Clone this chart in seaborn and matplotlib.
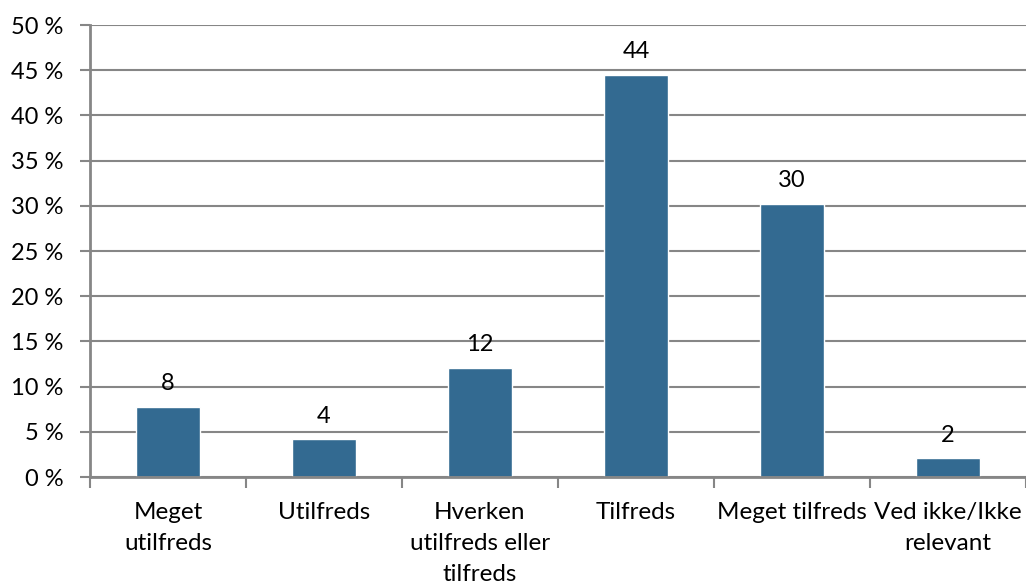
import numpy as np
import pandas as pd
import matplotlib
matplotlib.use("Agg")
import matplotlib.pyplot as plt
from matplotlib.ticker import FixedLocator, FuncFormatter
import seaborn as sns

categories = ["Meget\nutilfreds", "Utilfreds", "Hverken\nutilfreds eller\ntilfreds",
              "Tilfreds", "Meget tilfreds", "Ved ikke/Ikke\nrelevant"]
percent = [7.75, 4.2, 12.1, 44.5, 30.2, 2.1]
labels = ["8", "4", "12", "44", "30", "2"]

sns.set_theme(style="white")
plt.rcParams['font.family'] = ['Lato', 'DejaVu Sans']
plt.rcParams['text.color'] = 'black'

grey = "#868686"
df = pd.DataFrame({"cat": categories, "pct": percent})

fig = plt.figure(figsize=(10.26, 5.86), dpi=100)
ax = fig.add_axes([90 / 1026, 1 - 477 / 586, 1 - 90 / 1026, (477 - 25) / 586])

sns.barplot(data=df, x="cat", y="pct", color="#336A91", saturation=1, width=0.41, ax=ax)

ax.set_ylim(0, 50)
ax.set_xlim(-0.5, 5.5)
ax.set_yticks(np.arange(0, 51, 5))
ax.yaxis.set_major_formatter(FuncFormatter(lambda v, p: f"{int(v)} %"))
ax.grid(axis="y", color=grey, linewidth=1.5)
ax.set_axisbelow(True)
ax.tick_params(axis="y", labelsize=17, colors=grey, labelcolor="black", length=7, width=1.5, direction="out", left=True, pad=12)

ax.set_xticks(range(len(categories)))
ax.set_xticklabels(categories, fontsize=17.5, linespacing=1.6, color="black")
ax.tick_params(axis="x", which="major", length=0, pad=18)
ax.xaxis.set_minor_locator(FixedLocator(np.arange(-0.5, 6, 1)))
ax.tick_params(axis="x", which="minor", length=8, width=1.5, color=grey, bottom=True, direction="out")

for side in ["top", "right"]:
    ax.spines[side].set_visible(False)
for side in ["left", "bottom"]:
    ax.spines[side].set_color(grey)
    ax.spines[side].set_linewidth(2)

ax.set_xlabel("")
ax.set_ylabel("")

for i, (v, t) in enumerate(zip(percent, labels)):
    ax.annotate(t, (i, v), xytext=(0, 9), textcoords="offset points",
                ha="center", va="bottom", fontsize=17, color="black")

fig.savefig("out.png", dpi=100)
